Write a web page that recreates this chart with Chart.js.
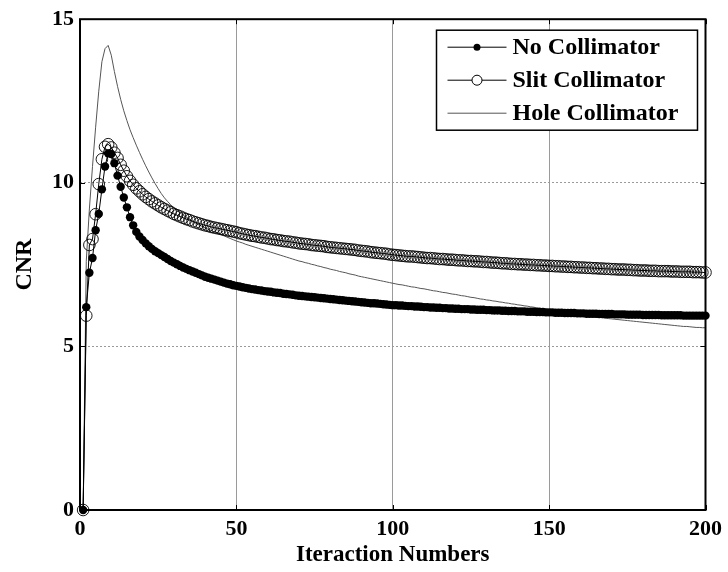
<!DOCTYPE html>
<html>
<head>
<meta charset="utf-8">
<script src="https://cdn.jsdelivr.net/npm/chart.js@4.4.0/dist/chart.umd.min.js"></script>
<style>
html, body { margin: 0; padding: 0; background: #fff; }
#wrap { width: 728px; height: 572px; }
</style>
</head>
<body>
<div id="wrap"><canvas id="cnrChart" width="728" height="572"></canvas></div>
<script>
// CNR per iteration (iterations 1..200)
const iterations = Array.from({ length: 200 }, (_, i) => i + 1);

const noCollimator = [
	0, 6.2, 7.25, 7.7, 8.55, 9.05, 9.8, 10.5, 10.9, 10.88,
	10.6, 10.22, 9.88, 9.55, 9.25, 8.95, 8.7, 8.5, 8.36, 8.25,
	8.15, 8.06, 7.98, 7.91, 7.85, 7.79, 7.73, 7.67, 7.61, 7.56,
	7.51, 7.46, 7.41, 7.37, 7.33, 7.29, 7.25, 7.21, 7.17, 7.13,
	7.1, 7.07, 7.04, 7.01, 6.98, 6.95, 6.92, 6.9, 6.87, 6.85,
	6.83, 6.81, 6.79, 6.77, 6.75, 6.74, 6.72, 6.71, 6.69, 6.68,
	6.67, 6.65, 6.64, 6.63, 6.61, 6.6, 6.59, 6.58, 6.56, 6.55,
	6.54, 6.53, 6.52, 6.51, 6.5, 6.49, 6.48, 6.47, 6.46, 6.45,
	6.44, 6.43, 6.42, 6.41, 6.4, 6.39, 6.38, 6.37, 6.36, 6.35,
	6.34, 6.33, 6.32, 6.32, 6.31, 6.3, 6.29, 6.28, 6.27, 6.26,
	6.26, 6.25, 6.25, 6.24, 6.23, 6.23, 6.22, 6.22, 6.21, 6.2,
	6.2, 6.19, 6.19, 6.18, 6.18, 6.17, 6.17, 6.16, 6.16, 6.15,
	6.15, 6.14, 6.14, 6.14, 6.13, 6.13, 6.12, 6.12, 6.12, 6.11,
	6.11, 6.1, 6.1, 6.1, 6.09, 6.09, 6.08, 6.08, 6.08, 6.07,
	6.07, 6.07, 6.06, 6.06, 6.06, 6.05, 6.05, 6.05, 6.04, 6.04,
	6.04, 6.03, 6.03, 6.03, 6.02, 6.02, 6.02, 6.02, 6.01, 6.01,
	6.01, 6.0, 6.0, 6.0, 6.0, 5.99, 5.99, 5.99, 5.99, 5.99,
	5.98, 5.98, 5.98, 5.98, 5.97, 5.97, 5.97, 5.97, 5.97, 5.96,
	5.96, 5.96, 5.96, 5.96, 5.96, 5.95, 5.95, 5.95, 5.95, 5.95,
	5.95, 5.95, 5.94, 5.94, 5.94, 5.94, 5.94, 5.94, 5.94, 5.94
];

const slitCollimator = [
	0, 5.94, 8.1, 8.28, 9.04, 9.96, 10.72, 11.1, 11.18, 11.08,
	10.92, 10.76, 10.55, 10.37, 10.2, 10.06, 9.94, 9.83, 9.74, 9.65,
	9.57, 9.5, 9.43, 9.37, 9.31, 9.25, 9.2, 9.15, 9.1, 9.05,
	9.01, 8.97, 8.93, 8.89, 8.86, 8.82, 8.79, 8.76, 8.73, 8.7,
	8.68, 8.65, 8.63, 8.61, 8.59, 8.57, 8.55, 8.53, 8.51, 8.49,
	8.46, 8.44, 8.42, 8.4, 8.38, 8.37, 8.35, 8.33, 8.32, 8.3,
	8.28, 8.27, 8.25, 8.24, 8.22, 8.21, 8.2, 8.18, 8.17, 8.15,
	8.14, 8.13, 8.12, 8.1, 8.09, 8.08, 8.07, 8.06, 8.04, 8.03,
	8.02, 8.01, 8.0, 7.99, 7.98, 7.97, 7.96, 7.95, 7.93, 7.92,
	7.91, 7.9, 7.88, 7.87, 7.86, 7.85, 7.84, 7.83, 7.81, 7.8,
	7.79, 7.78, 7.77, 7.76, 7.75, 7.75, 7.74, 7.73, 7.72, 7.71,
	7.7, 7.7, 7.69, 7.68, 7.67, 7.67, 7.66, 7.65, 7.65, 7.64,
	7.63, 7.63, 7.62, 7.61, 7.61, 7.6, 7.6, 7.59, 7.58, 7.58,
	7.57, 7.56, 7.56, 7.55, 7.54, 7.54, 7.53, 7.52, 7.52, 7.51,
	7.51, 7.5, 7.5, 7.49, 7.49, 7.48, 7.48, 7.47, 7.47, 7.46,
	7.46, 7.45, 7.45, 7.44, 7.44, 7.43, 7.43, 7.42, 7.42, 7.41,
	7.41, 7.4, 7.4, 7.39, 7.39, 7.38, 7.38, 7.37, 7.37, 7.36,
	7.36, 7.35, 7.35, 7.35, 7.34, 7.34, 7.33, 7.33, 7.32, 7.32,
	7.32, 7.31, 7.31, 7.31, 7.3, 7.3, 7.3, 7.3, 7.29, 7.29,
	7.29, 7.28, 7.28, 7.28, 7.28, 7.27, 7.27, 7.27, 7.26, 7.26
];

const holeCollimator = [
	0, 7.6, 9.2, 10.5, 11.7, 12.8, 13.7, 14.1, 14.2, 13.9,
	13.4, 12.95, 12.55, 12.2, 11.9, 11.62, 11.38, 11.15, 10.93, 10.72,
	10.52, 10.33, 10.15, 9.98, 9.82, 9.67, 9.54, 9.43, 9.33, 9.24,
	9.16, 9.08, 9.01, 8.95, 8.89, 8.83, 8.77, 8.72, 8.67, 8.62,
	8.58, 8.54, 8.5, 8.46, 8.42, 8.38, 8.34, 8.3, 8.26, 8.22,
	8.19, 8.16, 8.12, 8.09, 8.06, 8.03, 8.0, 7.97, 7.94, 7.91,
	7.88, 7.85, 7.82, 7.79, 7.76, 7.73, 7.7, 7.67, 7.64, 7.61,
	7.59, 7.56, 7.54, 7.51, 7.49, 7.46, 7.44, 7.41, 7.39, 7.36,
	7.34, 7.32, 7.29, 7.27, 7.25, 7.22, 7.2, 7.18, 7.15, 7.13,
	7.11, 7.09, 7.07, 7.05, 7.03, 7.01, 6.99, 6.97, 6.95, 6.93,
	6.91, 6.89, 6.88, 6.86, 6.84, 6.82, 6.81, 6.79, 6.77, 6.76,
	6.74, 6.72, 6.7, 6.69, 6.67, 6.65, 6.64, 6.62, 6.6, 6.59,
	6.57, 6.55, 6.54, 6.52, 6.5, 6.49, 6.47, 6.45, 6.44, 6.42,
	6.41, 6.39, 6.38, 6.36, 6.35, 6.33, 6.32, 6.3, 6.29, 6.27,
	6.26, 6.24, 6.23, 6.21, 6.2, 6.18, 6.17, 6.15, 6.14, 6.12,
	6.11, 6.09, 6.08, 6.06, 6.05, 6.03, 6.02, 6.0, 5.99, 5.97,
	5.96, 5.94, 5.93, 5.92, 5.9, 5.89, 5.88, 5.86, 5.85, 5.84,
	5.83, 5.82, 5.81, 5.8, 5.79, 5.78, 5.77, 5.76, 5.75, 5.74,
	5.73, 5.72, 5.71, 5.7, 5.69, 5.68, 5.67, 5.66, 5.65, 5.64,
	5.63, 5.62, 5.61, 5.61, 5.6, 5.59, 5.58, 5.58, 5.57, 5.57
];

const seriesNames = ['No Collimator', 'Slit Collimator', 'Hole Collimator'];
const xTicks = [0, 50, 100, 150, 200];
const yTicks = [0, 5, 10, 15];

const toPoints = (values) => values.map((v, i) => ({ x: iterations[i], y: v }));

const fontFamily = "'Liberation Serif', 'Times New Roman', serif";

// MATLAB style box: frame, inner ticks and the legend with line+marker samples
const boxPlugin = {
	id: 'matlabBox',
	afterDatasetsDraw(chart) {
		const ctx = chart.ctx;
		const area = chart.chartArea;
		const xs = chart.scales.x;
		const ys = chart.scales.y;
		const tick = 5;

		ctx.save();
		ctx.strokeStyle = '#000';
		ctx.lineWidth = 1;
		xTicks.forEach(v => {
			const px = Math.round(xs.getPixelForValue(v)) + 0.5;
			ctx.beginPath();
			ctx.moveTo(px, area.bottom); ctx.lineTo(px, area.bottom - tick);
			ctx.moveTo(px, area.top); ctx.lineTo(px, area.top + tick);
			ctx.stroke();
		});
		yTicks.forEach(v => {
			const py = Math.round(ys.getPixelForValue(v)) + 0.5;
			ctx.beginPath();
			ctx.moveTo(area.left, py); ctx.lineTo(area.left + tick, py);
			ctx.moveTo(area.right, py); ctx.lineTo(area.right - tick, py);
			ctx.stroke();
		});
		ctx.lineWidth = 2;
		ctx.strokeRect(area.left, area.top, area.right - area.left, area.bottom - area.top);
		ctx.restore();
	},
	afterDraw(chart) {
		const ctx = chart.ctx;
		const area = chart.chartArea;
		const boxRight = area.right - 8;
		const boxLeft = boxRight - 261;
		const boxTop = area.top + 11;
		const rowH = 33;
		const boxH = rowH * 3 + 1;

		ctx.save();
		ctx.fillStyle = '#fff';
		ctx.fillRect(boxLeft, boxTop, boxRight - boxLeft, boxH);
		ctx.strokeStyle = '#000';
		ctx.lineWidth = 1.5;
		ctx.strokeRect(boxLeft, boxTop, boxRight - boxLeft, boxH);

		ctx.font = `bold 24px ${fontFamily}`;
		ctx.textBaseline = 'middle';
		ctx.textAlign = 'left';

		chart.data.datasets.forEach((ds, i) => {
			const cy = boxTop + 17 + i * rowH;
			const x1 = boxLeft + 11;
			const x2 = boxLeft + 70;
			ctx.strokeStyle = ds.borderColor;
			ctx.lineWidth = 1;
			ctx.beginPath();
			ctx.moveTo(x1, cy); ctx.lineTo(x2, cy);
			ctx.stroke();
			if (ds.pointRadius > 0) {
				const mx = (x1 + x2) / 2;
				ctx.beginPath();
				if (ds.pointBackgroundColor === '#000') {
					ctx.arc(mx, cy, 3.5, 0, Math.PI * 2);
					ctx.fillStyle = '#000';
					ctx.fill();
				} else {
					ctx.arc(mx, cy, 5, 0, Math.PI * 2);
					ctx.fillStyle = '#fff';
					ctx.fill();
					ctx.strokeStyle = '#000';
					ctx.stroke();
				}
			}
			ctx.fillStyle = '#000';
			ctx.fillText(ds.label, boxLeft + 76, cy + 1);
		});
		ctx.restore();
	}
};

new Chart(document.getElementById('cnrChart'), {
	type: 'line',
	data: {
		datasets: [
			{
				label: seriesNames[0],
				data: toPoints(noCollimator),
				borderColor: '#000',
				borderWidth: 1,
				pointRadius: 4.2,
				pointBackgroundColor: '#000',
				pointBorderColor: '#000',
				pointBorderWidth: 0,
				clip: false,
				order: 2
			},
			{
				label: seriesNames[1],
				data: toPoints(slitCollimator),
				borderColor: '#000',
				borderWidth: 1,
				pointRadius: 5.8,
				pointBackgroundColor: 'rgba(0,0,0,0)',
				pointBorderColor: '#000',
				pointBorderWidth: 0.9,
				clip: false,
				order: 1
			},
			{
				label: seriesNames[2],
				data: toPoints(holeCollimator),
				borderColor: '#555',
				borderWidth: 1,
				pointRadius: 0,
				clip: false,
				order: 3
			}
		]
	},
	options: {
		responsive: false,
		animation: false,
		devicePixelRatio: 1,
		layout: { padding: { top: 17, right: 22, left: 0, bottom: 0 } },
		plugins: {
			legend: { display: false },
			tooltip: { enabled: false }
		},
		elements: { line: { tension: 0 } },
		scales: {
			x: {
				type: 'linear',
				min: 0,
				max: 200,
				afterFit: (scale) => { scale.height = 62; },
				afterBuildTicks: (scale) => { scale.ticks = xTicks.map(v => ({ value: v })); },
				grid: { color: '#9a9a9a', lineWidth: 1, drawTicks: false },
				border: { display: false },
				ticks: {
					color: '#000',
					padding: 6,
					maxRotation: 0,
					font: { family: fontFamily, size: 22, weight: 'bold' }
				},
				title: {
					display: true,
					text: 'Iteraction Numbers',
					color: '#000',
					padding: { top: 0, bottom: 3 },
					font: { family: fontFamily, size: 23, weight: 'bold' }
				}
			},
			y: {
				min: 0,
				max: 15,
				afterFit: (scale) => { scale.width = 80; },
				afterBuildTicks: (scale) => { scale.ticks = yTicks.map(v => ({ value: v })); },
				grid: { color: '#9a9a9a', lineWidth: 1, drawTicks: false },
				border: { display: false, dash: [2, 2] },
				ticks: {
					color: '#000',
					padding: 6,
					font: { family: fontFamily, size: 22, weight: 'bold' }
				},
				title: {
					display: true,
					text: 'CNR',
					color: '#000',
					padding: { top: 10, bottom: 0 },
					font: { family: fontFamily, size: 24, weight: 'bold' }
				}
			}
		}
	},
	plugins: [boxPlugin]
});
</script>
</body>
</html>
